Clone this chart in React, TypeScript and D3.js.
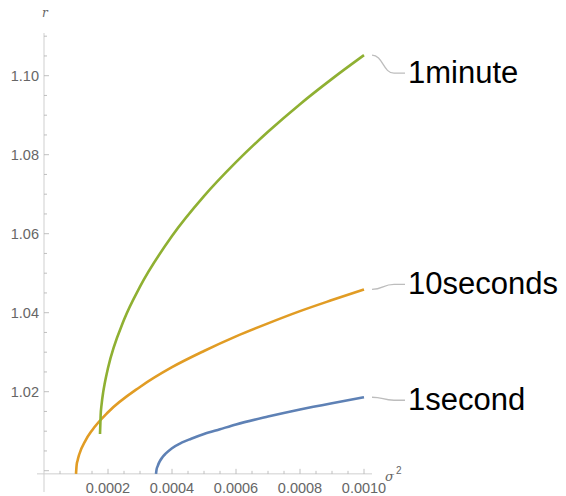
import * as d3 from 'd3';
import React from 'react';

// sigma^2 values and r values
const oneSecondX = [0.00035, 0.000352, 0.000355, 0.00036, 0.00037, 0.00038, 0.0004, 0.00043, 0.00046, 0.0005, 0.00055, 0.0006, 0.0007, 0.0008, 0.0009, 0.001];
const oneSecondY = [0.9992, 1.0004, 1.0011, 1.0021, 1.0034, 1.0043, 1.0057, 1.0071, 1.0081, 1.0093, 1.0105, 1.0117, 1.0137, 1.0155, 1.0171, 1.0186];

const tenSecondsX = [0.0001, 0.000102, 0.000105, 0.00011, 0.00013, 0.00015, 0.0002, 0.0003, 0.0004, 0.0005, 0.0006, 0.0007, 0.0008, 0.0009, 0.001];
const tenSecondsY = [0.9992, 1.0014, 1.0026, 1.0041, 1.0077, 1.0102, 1.0148, 1.0212, 1.0262, 1.0303, 1.034, 1.0373, 1.0404, 1.0432, 1.0459];

const oneMinuteX = [0.000175, 0.000177, 0.00018, 0.000185, 0.00019, 0.0002, 0.00025, 0.0003, 0.0004, 0.0005, 0.0006, 0.0007, 0.0008, 0.0009, 0.001];
const oneMinuteY = [1.0093, 1.0140, 1.0168, 1.0199, 1.0222, 1.026, 1.0382, 1.0466, 1.0594, 1.0695, 1.0781, 1.0858, 1.0928, 1.0992, 1.1052];

const seriesNames = ['1second', '10seconds', '1minute'];
const seriesColors = ['#5E81B5', '#E19C24', '#8FB032'];
// where each label sits, relative to the end of its curve
const labelShift = [3, -5, 18];

const xMajor = [0.0002, 0.0004, 0.0006, 0.0008, 0.001];
const xMajorLabels = ['0.0002', '0.0004', '0.0006', '0.0008', '0.0010'];
const yMajor = [1.02, 1.04, 1.06, 1.08, 1.1];
const yMajorLabels = ['1.02', '1.04', '1.06', '1.08', '1.10'];

const width = 566, height = 496;

const App = () => {
  // axis origin sits a little below r = 1
  const x = d3.scaleLinear().domain([0, 0.001]).range([44, 364]);
  const y = d3.scaleLinear().domain([1.0, 1.1]).range([470.7, 75.7]);
  const yOrigin = 0.9992;

  const series = [
    oneSecondX.map((v, i) => [v, oneSecondY[i]]),
    tenSecondsX.map((v, i) => [v, tenSecondsY[i]]),
    oneMinuteX.map((v, i) => [v, oneMinuteY[i]]),
  ];

  const line = d3.line<number[]>()
    .x(d => x(d[0]))
    .y(d => y(d[1]))
    .curve(d3.curveMonotoneX);

  const xMinor = d3.range(1, 21).map(i => i * 0.00005);
  const yMinor = d3.range(0, 23).map(i => 1 + i * 0.005);

  const axisColor = '#cfcfcf';
  const tickColor = '#b0b0b0';
  const labelColor = '#666';
  const x0 = x(0), yAx = y(yOrigin);

  return (
    <svg width={width} height={height} style={{ position: 'absolute', left: 0, top: 0, background: '#fff' }}
      fontFamily="'Liberation Sans', Arial, sans-serif">
      {/* axes */}
      <line x1={37} x2={372} y1={yAx} y2={yAx} stroke={axisColor} strokeWidth={1} />
      <line x1={x0} x2={x0} y1={33} y2={492} stroke={axisColor} strokeWidth={1} />

      {xMinor.map((v, i) => {
        const major = xMajor.some(m => Math.abs(m - v) < 1e-9);
        return <line key={'xt' + i} x1={x(v)} x2={x(v)} y1={yAx} y2={yAx - (major ? 5 : 3)} stroke={tickColor} strokeWidth={0.8} />;
      })}
      {yMinor.map((v, i) => {
        const major = Math.abs((v - 1) / 0.02 - Math.round((v - 1) / 0.02)) < 1e-6;
        return <line key={'yt' + i} x1={x0} x2={x0 + (major ? 5 : 3)} y1={y(v)} y2={y(v)} stroke={tickColor} strokeWidth={0.8} />;
      })}

      {xMajor.map((v, i) => (
        <text key={'xl' + i} x={x(v)} y={493} textAnchor="middle" fontSize={14.5} fill={labelColor}>{xMajorLabels[i]}</text>
      ))}
      {yMajor.map((v, i) => (
        <text key={'yl' + i} x={39} y={y(v) + 5} textAnchor="end" fontSize={14.5} fill={labelColor}>{yMajorLabels[i]}</text>
      ))}

      {/* axis names */}
      <text x={42} y={17} fontSize={12} fontStyle="italic" fill={labelColor} fontFamily="'DejaVu Serif', serif">r</text>
      <text x={385} y={481} fontSize={13} fontStyle="italic" fill={labelColor} fontFamily="'DejaVu Serif', serif">σ</text>
      <text x={396} y={474} fontSize={10} fill={labelColor}>2</text>

      {/* curves */}
      {series.map((s, i) => (
        <path key={'c' + i} d={line(s) || ''} fill="none" stroke={seriesColors[i]} strokeWidth={2.6} strokeLinecap="butt" />
      ))}

      {/* callout labels */}
      {series.map((s, i) => {
        const end = s[s.length - 1];
        const sx = x(end[0]) + 8, sy = y(end[1]);
        const ty = sy + labelShift[i];
        const d = `M${sx},${sy} C${sx + 11},${sy} ${sx + 11},${ty} ${sx + 22},${ty} L${sx + 33},${ty}`;
        return (
          <g key={'lab' + i}>
            <path d={d} fill="none" stroke="#bdbdbd" strokeWidth={1.3} />
            <text x={sx + 36} y={ty + 10} fontSize={31} fill="#000">{seriesNames[i]}</text>
          </g>
        );
      })}
    </svg>
  );
};

export default App;
